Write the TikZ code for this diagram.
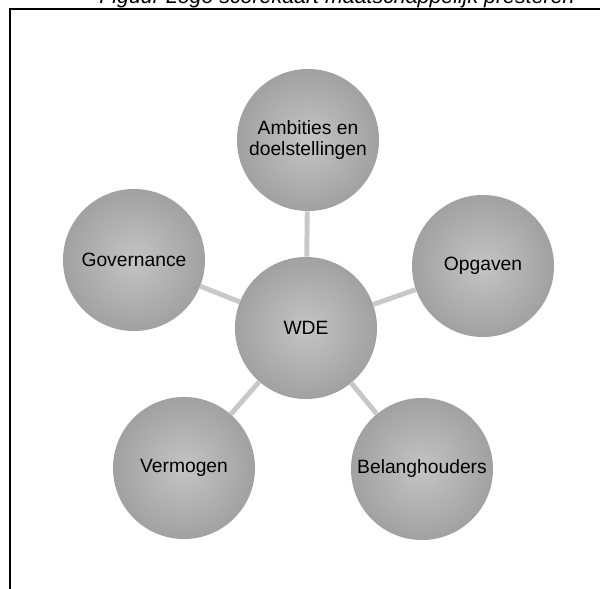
\documentclass[tikz,border=0pt]{standalone}
\usepackage{fontspec}
\setmainfont{Liberation Sans}
\definecolor{balbinnen}{RGB}{196,196,196}
\definecolor{balbuiten}{RGB}{126,126,126}
\definecolor{spaakgrijs}{RGB}{200,200,200}
\pgfdeclareradialshading{bol}{\pgfpoint{0bp}{0bp}}{color(0bp)=(balbinnen); color(50bp)=(balbuiten)}
\tikzset{
	bal/.style={circle, shading=bol, minimum size=3.55cm, inner sep=0pt, align=center,
		font=\fontsize{13.7}{15.6}\selectfont},
	spaak/.style={draw=spaakgrijs, line width=3.5pt}
}
\begin{document}
\begin{tikzpicture}[x=0.025cm, y=-0.025cm]
	\useasboundingbox (0,0) rectangle (600,588);
	\node[anchor=base, font=\itshape\fontsize{15.2}{18}\selectfont] (titel) at (337,3) {Figuur Logo scorekaart maatschappelijk presteren};
	\draw[line width=1.8pt] (10,9) rectangle (630,610);
	% de vijf bollen rond WDE
	\node[bal] (wde) at (306,328) {WDE};
	\node[bal] (ambities) at (308,140) {Ambities en\\doelstellingen};
	\node[bal] (governance) at (134,260) {Governance};
	\node[bal] (opgaven) at (483,266) {Opgaven};
	\node[bal] (vermogen) at (184,468) {Vermogen};
	\node[bal] (belang) at (422,469) {Belanghouders};
	% spaken
	\draw[spaak] (wde) -- (ambities);
	\draw[spaak] (wde) -- (governance);
	\draw[spaak] (wde) -- (opgaven);
	\draw[spaak] (wde) -- (vermogen);
	\draw[spaak] (wde) -- (belang);
\end{tikzpicture}
\end{document}
